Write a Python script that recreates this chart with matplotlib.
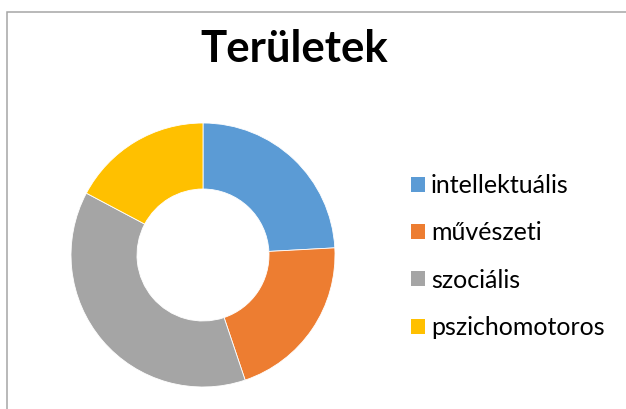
import matplotlib
matplotlib.use('Agg')
import matplotlib.pyplot as plt
from matplotlib.patches import Rectangle

# DATA
categories = ['intellektuális', 'művészeti', 'szociális', 'pszichomotoros']
values = [14, 12, 22, 10]
colors = ['#5B9BD5', '#ED7D31', '#A5A5A5', '#FFC000']
title = 'Területek'

plt.rcParams['font.family'] = ['Lato', 'DejaVu Sans']

W, H = 626, 409
fig = plt.figure(figsize=(W / 100, H / 100), dpi=100)

# chart frame (Excel style, runs off the right/bottom edge)
frame = Rectangle((6.5 / W, -0.5), 2.0, 1.5 - 11.5 / H, transform=fig.transFigure,
                  fill=False, edgecolor='#A6A6A6', linewidth=1.1)
fig.patches.append(frame)

# donut: center (203,255) px, radius 132 px
cx, cy, r = 203, 255, 132
ax = fig.add_axes([(cx - r) / W, (H - cy - r) / H, 2 * r / W, 2 * r / H])
wedges, _ = ax.pie(values, colors=colors, startangle=90, counterclock=False,
                   wedgeprops=dict(width=0.5, edgecolor='white', linewidth=0.6))
ax.set_xlim(-1, 1)
ax.set_ylim(-1, 1)
ax.set_aspect('equal')
ax.axis('off')

fig.text(294 / W, 1 - 62 / H, title, ha='center', va='baseline',
         fontsize=31.5, fontweight='bold', color='black')

leg = fig.legend(wedges, categories, loc='center left',
                 bbox_to_anchor=(411 / W, 1 - 256.5 / H), frameon=False,
                 fontsize=18, handlelength=0.55, handleheight=0.55,
                 handletextpad=0.25, labelspacing=0.97, borderaxespad=0,
                 borderpad=0)
for h in leg.legend_handles:
    h.set_edgecolor('none')

plt.savefig('out.png', dpi=100)
